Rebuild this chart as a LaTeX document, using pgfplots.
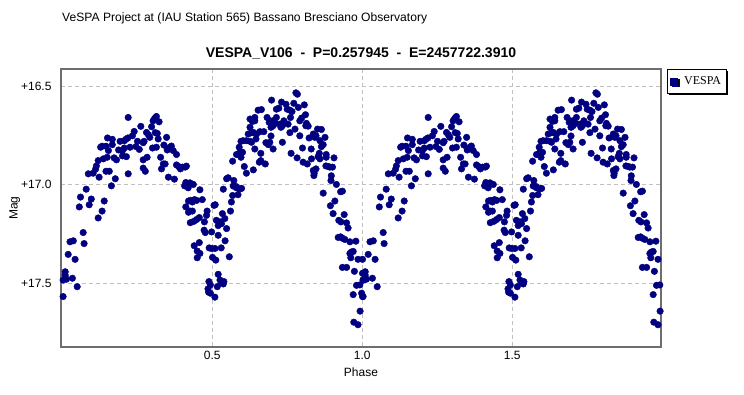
\documentclass[border=0pt]{standalone}
\usepackage{fontspec}
\setmainfont{Liberation Sans}
\newfontfamily\serifleg{Liberation Serif}
\usepackage{pgfplots}
\usepackage{pgfplotstable}
\pgfplotsset{compat=1.18}
\usetikzlibrary{shadows}
\definecolor{vnavy}{RGB}{0,0,128}
\definecolor{framegray}{RGB}{110,110,110}
\definecolor{gridgray}{RGB}{192,192,192}

\pgfplotstableread{
ph mag
0.003 17.485
0.010 17.443
0.010 17.460
0.014 17.481
0.034 17.476
0.003 17.569
0.050 17.519
0.020 17.355
0.043 17.380
0.026 17.291
0.037 17.286
0.073 17.300
0.070 17.244
0.120 17.170
0.133 17.135
0.140 17.084
0.057 17.114
0.090 17.103
0.097 17.074
0.061 17.064
0.080 17.024
0.087 16.946
0.103 16.943
0.111 16.923
0.114 16.906
0.123 16.963
0.120 16.879
0.137 16.870
0.150 16.862
0.146 16.933
0.157 16.933
0.164 17.007
0.177 16.971
0.128 16.811
0.133 16.806
0.146 16.806
0.151 16.764
0.167 16.771
0.167 16.798
0.154 16.828
0.173 16.865
0.181 16.875
0.188 16.825
0.193 16.781
0.207 16.778
0.212 16.771
0.219 16.764
0.201 16.828
0.207 16.815
0.201 16.855
0.214 16.859
0.220 16.946
0.220 16.660
0.226 16.811
0.234 16.753
0.240 16.731
0.246 16.808
0.251 16.781
0.257 16.822
0.262 16.705
0.270 16.875
0.270 16.917
0.277 16.933
0.283 16.862
0.270 16.788
0.273 16.781
0.281 16.736
0.287 16.747
0.292 16.761
0.298 16.707
0.303 16.677
0.308 16.665
0.314 16.655
0.323 16.682
0.310 16.737
0.317 16.741
0.320 16.769
0.301 16.815
0.314 16.811
0.328 16.862
0.331 16.921
0.337 16.896
0.343 16.896
0.339 16.800
0.348 16.761
0.350 16.825
0.359 16.811
0.364 16.805
0.370 16.828
0.381 16.848
0.354 16.963
0.374 16.973
0.381 16.901
0.388 16.909
0.394 16.921
0.401 16.912
0.410 16.912
0.414 16.907
0.408 17.007
0.412 16.990
0.420 17.017
0.426 16.992
0.437 17.000
0.459 17.027
0.467 17.077
0.421 17.084
0.428 17.081
0.434 17.089
0.441 17.077
0.448 17.081
0.412 17.114
0.421 17.141
0.426 17.135
0.434 17.135
0.427 17.194
0.439 17.187
0.448 17.178
0.457 17.168
0.474 17.190
0.481 17.157
0.483 17.135
0.473 17.232
0.477 17.244
0.457 17.295
0.440 17.311
0.450 17.338
0.459 17.350
0.450 17.372
0.490 17.322
0.489 17.493
0.486 17.530
0.488 17.547
0.506 17.106
0.510 17.103
0.498 17.241
0.498 17.325
0.509 17.325
0.501 17.370
0.512 17.384
0.514 17.182
0.520 17.209
0.526 17.190
0.534 17.148
0.531 17.199
0.542 17.173
0.548 17.224
0.520 17.258
0.543 17.286
0.530 17.322
0.557 17.367
0.520 17.456
0.526 17.485
0.531 17.498
0.539 17.493
0.537 17.505
0.517 17.519
0.509 17.572
0.494 17.510
0.494 17.552
0.561 17.135
0.564 17.089
0.568 17.056
0.586 17.052
0.570 17.008
0.579 17.010
0.572 16.980
0.581 17.017
0.590 17.022
0.598 17.020
0.548 16.971
0.553 16.966
0.537 17.024
0.568 16.882
0.581 16.848
0.587 16.848
0.592 16.837
0.596 16.862
0.601 16.837
0.590 16.811
0.607 16.909
0.614 16.943
0.637 16.926
0.657 16.887
0.662 16.879
0.677 16.896
0.662 16.842
0.642 16.820
0.596 16.781
0.603 16.778
0.614 16.778
0.626 16.781
0.631 16.786
0.620 16.744
0.631 16.737
0.637 16.736
0.646 16.769
0.648 16.744
0.626 16.668
0.634 16.680
0.642 16.677
0.626 16.710
0.642 16.660
0.653 16.623
0.664 16.620
0.659 16.732
0.672 16.732
0.679 16.788
0.687 16.798
0.692 16.786
0.696 16.754
0.703 16.820
0.683 16.660
0.690 16.685
0.696 16.710
0.698 16.572
0.701 16.677
0.703 16.702
0.711 16.690
0.714 16.660
0.714 16.618
0.722 16.613
0.726 16.694
0.729 16.710
0.734 16.702
0.739 16.677
0.734 16.786
0.731 16.582
0.746 16.593
0.750 16.618
0.753 16.694
0.759 16.623
0.761 16.660
0.766 16.630
0.772 16.588
0.779 16.535
0.784 16.542
0.759 16.737
0.776 16.719
0.763 16.842
0.783 16.865
0.787 16.609
0.792 16.677
0.798 16.663
0.807 16.596
0.811 16.646
0.801 16.815
0.792 16.753
0.803 16.887
0.817 16.896
0.812 16.702
0.820 16.704
0.814 16.690
0.823 16.764
0.830 16.820
0.837 16.744
0.842 16.761
0.846 16.753
0.851 16.719
0.864 16.721
0.859 16.778
0.876 16.761
0.870 16.798
0.864 16.808
0.857 16.842
0.853 16.859
0.859 16.870
0.831 16.870
0.837 16.929
0.846 16.921
0.839 16.955
0.840 16.943
0.880 16.848
0.880 16.862
0.906 16.865
0.879 16.906
0.887 16.909
0.892 16.912
0.901 16.912
0.897 16.956
0.896 16.980
0.914 17.000
0.928 17.037
0.934 17.034
0.870 17.044
0.909 17.084
0.894 17.108
0.903 17.148
0.940 17.153
0.922 17.182
0.929 17.190
0.948 17.195
0.953 17.221
0.920 17.269
0.928 17.266
0.934 17.273
0.942 17.279
0.959 17.291
0.979 17.288
0.959 17.350
0.964 17.343
0.970 17.340
0.962 17.372
0.986 17.380
1.001 17.380
0.934 17.421
0.948 17.421
0.974 17.441
1.001 17.451
1.003 17.485
0.981 17.512
0.992 17.510
0.998 17.552
0.970 17.559
1.001 17.569
0.993 17.643
0.972 17.699
0.986 17.712
}\vespa

\begin{document}
\begin{tikzpicture}[x=1pt,y=1pt]
\path[use as bounding box] (0,0) rectangle (744,394);
\node[anchor=west,inner xsep=0pt,font=\fontsize{12.1}{14}\selectfont] at (62,375.5) {VeSPA Project at (IAU Station 565) Bassano Bresciano Observatory};
\node[font=\fontsize{14}{16}\selectfont\bfseries] at (361,340.5) {VESPA\_V106\ \ -\ \ P=0.257945\ \ -\ \ E=2457722.3910};
\begin{axis}[
  at={(61pt,47pt)}, anchor=south west,
  scale only axis, width=600pt, height=278pt,
  xmin=-0.004, xmax=1.996,
  ymin=16.414, ymax=17.825,
  y dir=reverse,
  xtick={0.5,1,1.5}, xticklabels={0.5,1.0,1.5},
  ytick={16.5,17,17.5}, yticklabels={+16.5,+17.0,+17.5},
  major tick length=0pt,
  grid=major,
  major grid style={gridgray, dash pattern=on 4pt off 3pt, line width=0.8pt},
  axis line style={framegray, line width=1.3pt},
  tick label style={font=\fontsize{12}{14}\selectfont},
  yticklabel style={xshift=-6pt},
  xticklabel style={yshift=-1pt},
  xlabel={Phase}, ylabel={Mag},
  label style={font=\fontsize{12}{14}\selectfont},
  xlabel style={yshift=-1pt},
  ylabel style={yshift=-6pt},
  legend style={at={(1.01,1)}, anchor=north west, draw=black, line width=0.8pt,
    fill=white, font=\fontsize{12}{14}\selectfont\serifleg,
    drop shadow={shadow xshift=1.5pt, shadow yshift=-1.5pt, fill=black, opacity=1},
    inner xsep=3pt, inner ysep=5.5pt},
  legend cell align=left,
  clip=true,
]
\addplot[only marks, mark=*, mark size=3.3pt, color=vnavy, mark options={draw=vnavy, fill=vnavy},
  legend image code/.code={\fill[vnavy] (1pt,-3.5pt) rectangle (8pt,3.5pt);}]
  table[x=ph, y=mag] {\vespa};
\addlegendentry{\hspace{4pt}VESPA\hspace{3pt}}
\addplot[only marks, mark=*, mark size=3.3pt, color=vnavy, mark options={draw=vnavy, fill=vnavy}, forget plot]
  table[x expr=\thisrow{ph}+1, y=mag] {\vespa};
\end{axis}
\end{tikzpicture}
\end{document}
